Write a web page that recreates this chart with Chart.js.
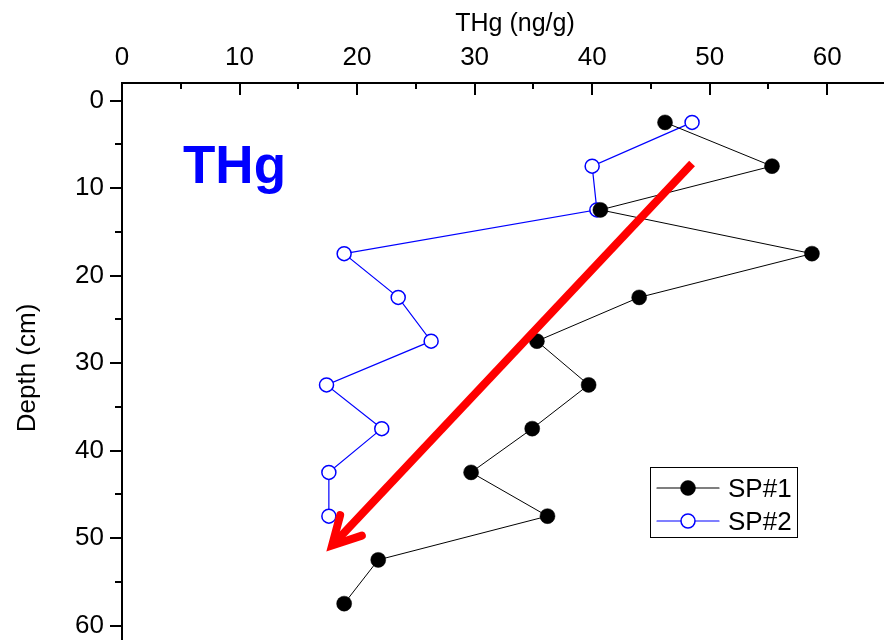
<!DOCTYPE html>
<html>
<head>
<meta charset="utf-8">
<script src="https://cdn.jsdelivr.net/npm/chart.js@4/dist/chart.umd.min.js"></script>
<style>
html,body{margin:0;padding:0;background:#fff;overflow:hidden;width:884px;height:640px;}
canvas{position:absolute;left:0;top:0;}
</style>
</head>
<body>
<canvas id="c" width="886" height="643"></canvas>
<script>
// depth of each slice (cm)
const depth1 = [2.5, 7.5, 12.5, 17.5, 22.5, 27.5, 32.5, 37.5, 42.5, 47.5, 52.5, 57.5];
const depth2 = [2.5, 7.5, 12.5, 17.5, 22.5, 27.5, 32.5, 37.5, 42.5, 47.5];
// THg (ng/g)
const sp1 = [46.2, 55.3, 40.7, 58.7, 44.0, 35.3, 39.7, 34.9, 29.7, 36.2, 21.8, 18.9];
const sp2 = [48.5, 40.0, 40.4, 18.9, 23.5, 26.3, 17.4, 22.1, 17.6, 17.6];
const seriesNames = ["SP#1", "SP#2"];
const xTicks = [0, 10, 20, 30, 40, 50, 60];
const yTicks = [0, 10, 20, 30, 40, 50, 60];
// red trend arrow, from -> to, in data units (THg, depth)
const arrowFrom = [48.5, 7.2];
const arrowTo = [17.7, 51.1];

const FONT = "'Liberation Sans', Arial, sans-serif";

const extras = {
    id: "extras",
    afterDraw(chart){
        const ctx = chart.ctx;
        const xs = chart.scales.x, ys = chart.scales.y;
        const area = chart.chartArea;
        ctx.save();
        ctx.strokeStyle = "#000";
        ctx.lineWidth = 2;
        // top axis ticks point inward
        for(let v = 0; v <= 65; v += 5){
            const px = Math.round(xs.getPixelForValue(v));
            const len = v % 10 === 0 ? 12 : 6;
            ctx.beginPath();
            ctx.moveTo(px, area.top);
            ctx.lineTo(px, area.top + len);
            ctx.stroke();
        }
        // left axis ticks point outward
        for(let v = 0; v <= 60; v += 5){
            const py = Math.round(ys.getPixelForValue(v));
            const len = v % 10 === 0 ? 12 : 7;
            ctx.beginPath();
            ctx.moveTo(area.left, py);
            ctx.lineTo(area.left - len, py);
            ctx.stroke();
        }

        // axis titles
        ctx.fillStyle = "#000";
        ctx.font = "25px " + FONT;
        ctx.textAlign = "center";
        ctx.textBaseline = "alphabetic";
        ctx.fillText("THg (ng/g)", 515, 31);
        ctx.save();
        ctx.translate(35, 368);
        ctx.rotate(-Math.PI/2);
        ctx.font = "26px " + FONT;
        ctx.fillText("Depth (cm)", 0, 0);
        ctx.restore();

        // big label
        ctx.fillStyle = "#0000ff";
        ctx.font = "bold 53px " + FONT;
        ctx.textAlign = "left";
        ctx.fillText("THg", area.left + 61, area.top + 100);

        // red arrow
        const x0 = xs.getPixelForValue(arrowFrom[0]), y0 = ys.getPixelForValue(arrowFrom[1]);
        const x1 = xs.getPixelForValue(arrowTo[0]), y1 = ys.getPixelForValue(arrowTo[1]);
        const ang = Math.atan2(y0 - y1, x0 - x1);
        ctx.strokeStyle = "#ff0000";
        ctx.lineWidth = 8;
        ctx.lineCap = "butt";
        ctx.beginPath();
        ctx.moveTo(x0, y0);
        ctx.lineTo(x1 + 4*Math.cos(ang), y1 + 4*Math.sin(ang));
        ctx.stroke();
        const wing = 34, spread = 26 * Math.PI / 180;
        ctx.lineCap = "round";
        ctx.lineJoin = "miter";
        ctx.beginPath();
        ctx.moveTo(x1 + wing*Math.cos(ang - spread), y1 + wing*Math.sin(ang - spread));
        ctx.lineTo(x1 + 3*Math.cos(ang), y1 + 3*Math.sin(ang));
        ctx.lineTo(x1 + wing*Math.cos(ang + spread), y1 + wing*Math.sin(ang + spread));
        ctx.stroke();

        // legend box
        const lx = 650, ly = 467, lw = 147, lh = 70;
        ctx.strokeStyle = "#000";
        ctx.lineWidth = 1;
        ctx.strokeRect(lx + 0.5, ly + 0.5, lw, lh);
        const rows = [488, 521];
        chart.data.datasets.forEach((ds, i) => {
            const ry = rows[i];
            ctx.strokeStyle = ds.borderColor;
            ctx.lineWidth = 1.2;
            ctx.beginPath();
            ctx.moveTo(657, ry);
            ctx.lineTo(719, ry);
            ctx.stroke();
            ctx.beginPath();
            ctx.arc(688, ry, ds.pointRadius, 0, Math.PI*2);
            ctx.fillStyle = ds.pointBackgroundColor;
            ctx.fill();
            ctx.lineWidth = ds.pointBorderWidth;
            ctx.strokeStyle = ds.pointBorderColor;
            ctx.stroke();
            ctx.fillStyle = "#000";
            ctx.font = "26px " + FONT;
            ctx.textAlign = "left";
            ctx.fillText(ds.label, 728, ry + 9);
        });
        ctx.restore();
    }
};

new Chart(document.getElementById("c"), {
    type: "scatter",
    data: {
        datasets: [
            {
                label: seriesNames[0],
                data: sp1.map((v,i)=>({x:v, y:depth1[i]})),
                showLine: true,
                borderColor: "#000000",
                borderWidth: 1,
                pointRadius: 7.5,
                pointBackgroundColor: "#000000",
                pointBorderColor: "#000000",
                pointBorderWidth: 0.5
            },
            {
                label: seriesNames[1],
                data: sp2.map((v,i)=>({x:v, y:depth2[i]})),
                showLine: true,
                borderColor: "#0000ff",
                borderWidth: 1.2,
                pointRadius: 7,
                pointBackgroundColor: "#ffffff",
                pointBorderColor: "#0000ff",
                pointBorderWidth: 1.5
            }
        ]
    },
    options: {
        responsive: false,
        animation: false,
        layout: {padding: 0, autoPadding: false},
        plugins: {legend: {display: false}, tooltip: {enabled: false}},
        scales: {
            x: {
                type: "linear",
                position: "top",
                min: 0,
                max: 65,
                afterBuildTicks(scale){ scale.ticks = xTicks.map(v=>({value:v})); },
                afterFit(scale){ scale.height = 83; scale.paddingLeft = 0; scale.paddingRight = 0; },
                ticks: {color: "#000", padding: 10, font: {family: FONT, size: 26}},
                grid: {display: true, drawOnChartArea: false, drawTicks: false},
                border: {display: true, color: "#000", width: 2}
            },
            y: {
                type: "linear",
                position: "left",
                reverse: true,
                min: -2,
                max: 62,
                afterBuildTicks(scale){ scale.ticks = yTicks.map(v=>({value:v})); },
                afterFit(scale){ scale.width = 122; scale.paddingTop = 0; scale.paddingBottom = 0; },
                ticks: {color: "#000", padding: 18, font: {family: FONT, size: 26}},
                grid: {display: true, drawOnChartArea: false, drawTicks: false},
                border: {display: true, color: "#000", width: 2}
            }
        }
    },
    plugins: [extras]
});
</script>
</body>
</html>
